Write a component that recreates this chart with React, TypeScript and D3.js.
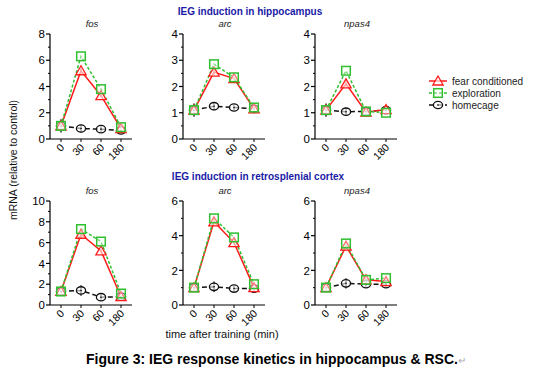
import * as d3 from 'd3';

// time points (min)
const times = ['0', '30', '60', '180'];
const seriesNames = ['fear conditioned', 'exploration', 'homecage'];

// hippocampus
const hpcFosFear = [1.0, 5.2, 3.3, 0.8];
const hpcFosExpl = [1.0, 6.3, 3.8, 0.9];
const hpcFosHome = [1.0, 0.8, 0.75, 0.65];
const hpcArcFear = [1.1, 2.55, 2.3, 1.15];
const hpcArcExpl = [1.1, 2.85, 2.35, 1.2];
const hpcArcHome = [1.1, 1.25, 1.2, 1.15];
const hpcNpasFear = [1.1, 2.1, 1.02, 1.12];
const hpcNpasExpl = [1.1, 2.6, 1.05, 1.0];
const hpcNpasHome = [1.1, 1.04, 1.05, 1.1];

// retrosplenial cortex
const rscFosFear = [1.3, 6.8, 5.2, 0.8];
const rscFosExpl = [1.3, 7.3, 6.1, 1.1];
const rscFosHome = [1.3, 1.4, 0.75, 0.8];
const rscArcFear = [1.0, 4.8, 3.6, 1.0];
const rscArcExpl = [1.0, 5.0, 3.9, 1.2];
const rscArcHome = [1.0, 1.05, 0.95, 0.95];
const rscNpasFear = [1.0, 3.4, 1.45, 1.35];
const rscNpasExpl = [1.0, 3.55, 1.45, 1.55];
const rscNpasHome = [1.0, 1.25, 1.2, 1.2];

// error (sem) shown for homecage/fear points
const hpcErr = [0.25, 0.15, 0.1, 0.1];
const rscErr = [0.15, 0.2, 0.1, 0.1];

const FONT = "Arial, 'Liberation Sans', sans-serif";
const RED = '#ff1a1a';
const GREEN = '#2fbf2f';

const panels = [
  { title: 'fos', x0: 50, top: 34, bottom: 139, max: 8, major: 2, minor: 1, data: [hpcFosFear, hpcFosExpl, hpcFosHome], err: hpcErr },
  { title: 'arc', x0: 183, top: 34, bottom: 139, max: 4, major: 1, minor: 0.5, data: [hpcArcFear, hpcArcExpl, hpcArcHome], err: hpcErr },
  { title: 'npas4', x0: 315, top: 34, bottom: 139, max: 4, major: 1, minor: 0.5, data: [hpcNpasFear, hpcNpasExpl, hpcNpasHome], err: hpcErr },
  { title: 'fos', x0: 50, top: 201, bottom: 305, max: 10, major: 2, minor: 1, data: [rscFosFear, rscFosExpl, rscFosHome], err: rscErr },
  { title: 'arc', x0: 183, top: 201, bottom: 305, max: 6, major: 2, minor: 1, data: [rscArcFear, rscArcExpl, rscArcHome], err: rscErr },
  { title: 'npas4', x0: 315, top: 201, bottom: 305, max: 6, major: 2, minor: 1, data: [rscNpasFear, rscNpasExpl, rscNpasHome], err: rscErr },
];

const styles = [
  { color: RED, dash: null, marker: 'tri' },
  { color: GREEN, dash: '3,2', marker: 'sq' },
  { color: '#111', dash: '5,3', marker: 'circ' },
];

const Marker = ({ kind, x, y, color }: any) => {
  if (kind === 'tri') {
    const p = d3.symbol().type(d3.symbolTriangle).size(46)();
    return <path d={p} transform={`translate(${x},${y + 1})`} fill="white" fillOpacity={0.6} stroke={color} strokeWidth={1.3} />;
  }
  if (kind === 'sq') {
    return <rect x={x - 4.3} y={y - 4.3} width={8.6} height={8.6} fill="white" fillOpacity={0.4} stroke={color} strokeWidth={1.5} />;
  }
  return (
    <g>
      <ellipse cx={x} cy={y} rx={4.6} ry={3.7} fill="white" fillOpacity={0.6} stroke={color} strokeWidth={1.3} />
      <circle cx={x} cy={y} r={0.8} fill={color} />
    </g>
  );
};

const Panel = ({ p }: any) => {
  const x = d3.scalePoint().domain(times).range([p.x0, p.x0 + 82]).padding(0.55);
  const y = d3.scaleLinear().domain([0, p.max]).range([p.bottom, p.top]);
  const majors = d3.range(0, p.max + 0.001, p.major);
  const minors = d3.range(0, p.max + 0.001, p.minor).filter((v) => !majors.some((m) => Math.abs(m - v) < 1e-6));
  const line = d3.line<number>().x((_, i) => x(times[i])!).y((d) => y(d));
  const order = [2, 0, 1];
  return (
    <g>
      <text x={p.x0 + 42} y={p.top - 7} textAnchor="middle" fontStyle="italic" fontSize={9.5} fill="#222" fontFamily={FONT}>{p.title}</text>
      {/* y axis */}
      <line x1={p.x0} x2={p.x0} y1={p.top} y2={p.bottom} stroke="#000" strokeWidth={1.2} />
      {majors.map((v) => (
        <g key={'M' + v}>
          <line x1={p.x0 - 4} x2={p.x0} y1={y(v)} y2={y(v)} stroke="#000" strokeWidth={1.2} />
          <text x={p.x0 - 5} y={y(v) + 4.2} textAnchor="end" fontSize={11.5} fontFamily={FONT}>{v}</text>
        </g>
      ))}
      {minors.map((v) => (
        <line key={'m' + v} x1={p.x0 - 2} x2={p.x0} y1={y(v)} y2={y(v)} stroke="#000" strokeWidth={1} />
      ))}
      {/* x axis */}
      <line x1={p.x0} x2={p.x0 + 82} y1={p.bottom} y2={p.bottom} stroke="#000" strokeWidth={1.2} />
      {times.map((t) => (
        <g key={t}>
          <line x1={x(t)} x2={x(t)} y1={p.bottom} y2={p.bottom + 3} stroke="#000" strokeWidth={1} />
          <text transform={`translate(${x(t)! + 4},${p.bottom + 9}) rotate(-45)`} textAnchor="end" fontSize={10.5} fontFamily={FONT}>{t}</text>
        </g>
      ))}
      {/* error bars */}
      {p.data[2].map((v: number, i: number) => (
        <line key={'e' + i} x1={x(times[i])} x2={x(times[i])} y1={y(v + p.err[i] * p.max / 4)} y2={y(Math.max(0, v - p.err[i] * p.max / 4))} stroke="#000" strokeWidth={1.2} />
      ))}
      {p.data[0].map((v: number, i: number) => (
        <line key={'f' + i} x1={x(times[i])} x2={x(times[i])} y1={y(v + p.err[i] * p.max / 6)} y2={y(v - p.err[i] * p.max / 6)} stroke={RED} strokeWidth={1.2} />
      ))}
      {order.map((s) => (
        <path key={'l' + s} d={line(p.data[s])!} fill="none" stroke={styles[s].color} strokeWidth={1.5} strokeDasharray={styles[s].dash ?? undefined} />
      ))}
      {order.map((s) =>
        p.data[s].map((v: number, i: number) => (
          <Marker key={s + '-' + i} kind={styles[s].marker} x={x(times[i])} y={y(v)} color={styles[s].color} />
        ))
      )}
    </g>
  );
};

const App = () => {
  const legendY = d3.scalePoint().domain(seriesNames).range([81, 105]);
  return (
    <svg width={546} height={368} style={{ position: 'absolute', left: 0, top: 0, background: '#fff' }} fontFamily={FONT}>
      <rect width={546} height={368} fill="#fff" />
      <text x={250} y={15} textAnchor="middle" fontSize={10} fontWeight="bold" fill="#1a1aa6">IEG induction in hippocampus</text>
      <text x={258} y={180} textAnchor="middle" fontSize={10} fontWeight="bold" fill="#1a1aa6">IEG induction in retrosplenial cortex</text>
      {panels.map((p, i) => <Panel key={i} p={p} />)}
      {seriesNames.map((n, i) => (
        <g key={n}>
          <line x1={429} x2={447} y1={legendY(n)} y2={legendY(n)} stroke={styles[i].color} strokeWidth={1.5} strokeDasharray={styles[i].dash ?? undefined} />
          <Marker kind={styles[i].marker} x={438} y={legendY(n)} color={styles[i].color} />
          <text x={452} y={legendY(n)! + 3.5} fontSize={10} fill="#222">{n}</text>
        </g>
      ))}
      <text transform="translate(17,160) rotate(-90)" textAnchor="middle" fontSize={10.5} fill="#111">mRNA (relative to control)</text>
      <text x={222} y={338} textAnchor="middle" fontSize={11} fill="#111">time after training (min)</text>
      <text x={276} y={364} textAnchor="middle" fontSize={14} fontWeight="bold" fill="#000">Figure 3: IEG response kinetics in hippocampus &amp; RSC.<tspan fill="#aaa" fontWeight="normal" fontSize={10}>↵</tspan></text>
    </svg>
  );
};

export default App;
